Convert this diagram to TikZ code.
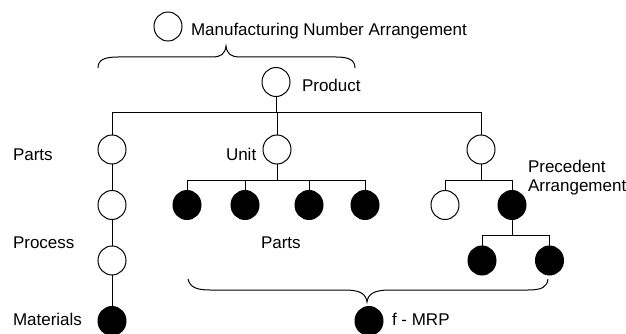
\documentclass[tikz,border=0pt]{standalone}
\usepackage{fontspec}
\setmainfont{Liberation Sans}
\usetikzlibrary{shapes.geometric}
\begin{document}
\begin{tikzpicture}[x=1pt,y=-1pt,
  every node/.style={inner sep=0pt, outer sep=0pt},
  openel/.style={ellipse, draw, line width=1pt, minimum width=28pt, minimum height=29pt, fill=white},
  blkel/.style={ellipse, draw, line width=1pt, minimum width=28pt, minimum height=29pt, fill=black},
  lbl/.style={anchor=base west, font=\fontsize{17}{19}\selectfont},
  conn/.style={line width=1pt},
  bracepath/.style={line width=1pt}]
\useasboundingbox (0,0) rectangle (626,334);

% legend and top brace
\node[openel] (mna) at (168,26.5) {};
\node[lbl] (mnat) at (191,36) {Manufacturing Number Arrangement};
\draw[bracepath] (98,68) .. controls (98,60) and (104,57) .. (118,57) -- (212,57)
  .. controls (221,57) and (225,54) .. (226,46)
  .. controls (227,54) and (231,57) .. (240,57) -- (336,57)
  .. controls (349,57) and (355,60) .. (355,68);

% product
\node[openel] (prod) at (276,82) {};
\node[lbl] (prodt) at (302,92) {Product};
\coordinate (bar1) at (276,113);

% first level
\node[openel] (a1) at (112,149.5) {};
\node[openel] (unit) at (277,149.5) {};
\node[openel] (r1) at (481,149.5) {};
\node[lbl] (partst) at (13,160) {Parts};
\node[lbl] (unitt) at (226,160) {Unit};
\node[lbl] (prec1) at (528,172) {Precedent};
\node[lbl] (prec2) at (528,191) {Arrangement};

\draw[conn] (prod.south) -- (bar1);
\draw[conn] (a1.north) -- (a1.north |- bar1) -- (r1.north |- bar1) -- (r1.north);
\draw[conn] (unit.north) -- (unit.north |- bar1);

% second level
\coordinate (bar2) at (277,180);
\node[openel] (a2) at (112,205) {};
\node[blkel] (b1) at (187,205) {};
\node[blkel] (b2) at (245,205) {};
\node[blkel] (b3) at (309,205) {};
\node[blkel] (b4) at (365,205) {};
\node[openel] (r2a) at (445,205) {};
\node[blkel] (r2b) at (512,205) {};

\draw[conn] (unit.south) -- (bar2);
\draw[conn] (b1.north) -- (b1.north |- bar2) -- (b4.north |- bar2) -- (b4.north);
\draw[conn] (b2.north) -- (b2.north |- bar2);
\draw[conn] (b3.north) -- (b3.north |- bar2);
\draw[conn] (r1.south) -- (r1.south |- bar2);
\draw[conn] (r2a.north) -- (r2a.north |- bar2) -- (r2b.north |- bar2) -- (r2b.north);
\draw[conn] (a1.south) -- (a2.north);

% third level
\coordinate (bar3) at (512,235);
\node[openel] (a3) at (112,260.5) {};
\node[blkel] (r3a) at (482,260.5) {};
\node[blkel] (r3b) at (549.5,260.5) {};
\node[lbl] (proct) at (13,248) {Process};
\node[lbl] (parts2t) at (261,248) {Parts};

\draw[conn] (a2.south) -- (a3.north);
\draw[conn] (r2b.south) -- (bar3);
\draw[conn] (r3a.north) -- (r3a.north |- bar3) -- (r3b.north |- bar3) -- (r3b.north);

% bottom brace
\draw[bracepath] (188,279) .. controls (190,287) and (196,290) .. (210,290) -- (345,290)
  .. controls (360,290) and (366,294) .. (367,302)
  .. controls (368,294) and (374,290) .. (390,290) -- (528,290)
  .. controls (542,290) and (547,287) .. (548,279);

% fourth level
\node[blkel] (mat) at (112,321) {};
\node[blkel] (fmrp) at (369,321) {};
\node[lbl] (matt) at (13,325) {Materials};
\node[lbl] (fmrpt) at (392,325) {f - MRP};
\draw[conn] (a3.south) -- (mat.north);
\end{tikzpicture}
\end{document}
